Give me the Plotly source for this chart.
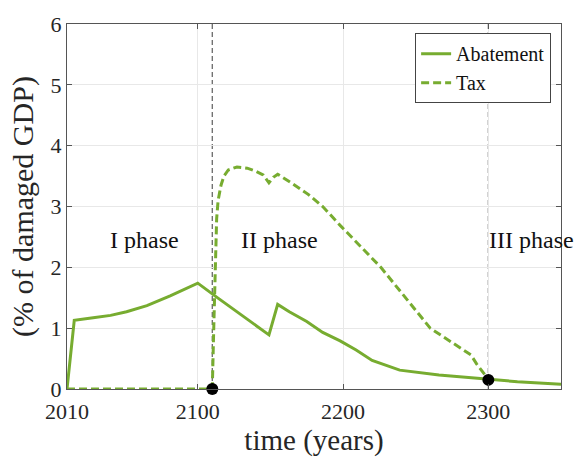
import plotly.graph_objects as go

# ---- data ----
years_abatement = [2010, 2015, 2028, 2040, 2051, 2065, 2081, 2100, 2113, 2149, 2155, 2163,
                   2175, 2186, 2198, 2204, 2209, 2220, 2239, 2266, 2298, 2320, 2350]
abatement = [0, 1.13, 1.17, 1.21, 1.27, 1.37, 1.53, 1.74, 1.51, 0.89, 1.39, 1.27,
             1.11, 0.93, 0.79, 0.71, 0.64, 0.47, 0.31, 0.23, 0.16, 0.12, 0.08]

years_tax = [2010, 2110, 2111, 2112, 2113, 2114, 2116, 2118, 2121, 2127, 2134, 2140,
             2145, 2149, 2152, 2155, 2165, 2176, 2186, 2198, 2226, 2260, 2288, 2292, 2300]
tax = [0, 0, 1.0, 2.2, 2.8, 3.1, 3.35, 3.5, 3.6, 3.65, 3.63, 3.58,
       3.52, 3.39, 3.48, 3.53, 3.38, 3.2, 3.0, 2.69, 2.0, 1.0, 0.56, 0.41, 0.16]

phase_bounds = [2110, 2300]
bound_values = [0, 0.15]

phase_labels = ["I phase", "II phase", "III phase"]
phase_x = [2063, 2156, 2330]
phase_y = [2.45, 2.45, 2.45]

x_ticks = [2010, 2100, 2200, 2300]
y_ticks = [0, 1, 2, 3, 4, 5, 6]

GREEN = "#77AC30"
FONT = "Liberation Serif"
TXT = "#262626"

fig = go.Figure()

fig.add_trace(go.Scatter(x=years_abatement, y=abatement, mode="lines", name="Abatement",
                         line=dict(color=GREEN, width=3)))
fig.add_trace(go.Scatter(x=years_tax, y=tax, mode="lines", name="Tax",
                         line=dict(color=GREEN, width=3, dash="8px,4px")))
fig.add_trace(go.Scatter(x=phase_bounds, y=bound_values, mode="markers", showlegend=False,
                         marker=dict(color="black", size=12), cliponaxis=False))

for xb in phase_bounds:
    fig.add_shape(type="line", x0=xb, x1=xb, y0=0, y1=6, xref="x", yref="y",
                  line=dict(color="#6a6a6a", width=1.3, dash="5px,3px"), layer="below")

for t, xx, yy in zip(phase_labels, phase_x, phase_y):
    fig.add_annotation(x=xx, y=yy, text=t, showarrow=False, xref="x", yref="y",
                       font=dict(family=FONT, size=24, color="#111111"))

fig.update_layout(
    width=579, height=457,
    margin=dict(l=67, r=18, t=20, b=65),
    paper_bgcolor="white", plot_bgcolor="white",
    font=dict(family=FONT, color=TXT),
    showlegend=True,
    legend=dict(x=0.98, y=0.975, xanchor="right", yanchor="top",
                bgcolor="white", bordercolor="#444444", borderwidth=1,
                font=dict(family=FONT, size=20, color="#111111"),
                tracegroupgap=0, itemwidth=30),
)
fig.update_xaxes(range=[2010, 2350], tickvals=x_ticks, ticktext=[str(v) for v in x_ticks],
                 showgrid=True, gridcolor="#e8e8e8", gridwidth=1, zeroline=False,
                 showline=True, linecolor="#555555", linewidth=1, mirror="ticks",
                 ticks="inside", ticklen=5, tickcolor="#555555", ticklabelstandoff=3,
                 tickfont=dict(family=FONT, size=22, color=TXT),
                 title=dict(text="time (years)", font=dict(family=FONT, size=29, color=TXT), standoff=0))
fig.update_yaxes(range=[0, 6], tickvals=y_ticks, showgrid=True, gridcolor="#e8e8e8", gridwidth=1,
                 zeroline=False, showline=True, linecolor="#555555", linewidth=1, mirror="ticks",
                 ticks="inside", ticklen=5, tickcolor="#555555",
                 tickfont=dict(family=FONT, size=22, color=TXT),
                 title=dict(text="(% of damaged GDP)", font=dict(family=FONT, size=30, color=TXT), standoff=8))

fig.write_html("out.html")
